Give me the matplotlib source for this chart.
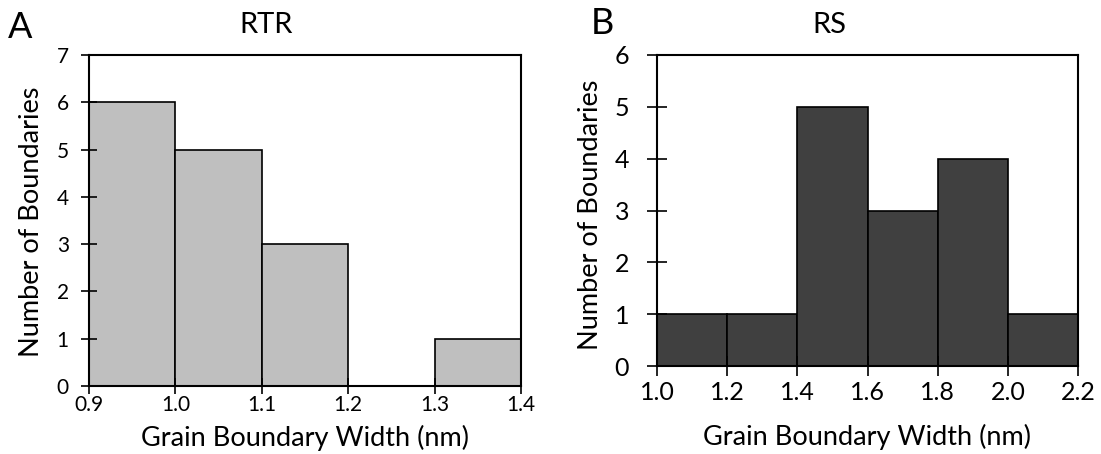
import matplotlib
matplotlib.use("Agg")
import matplotlib.pyplot as plt

plt.rcParams['font.family'] = ['Lato', 'DejaVu Sans']

# panel A: RTR
rtr_edges = [0.9, 1.0, 1.1, 1.2, 1.3, 1.4]
rtr_counts = [6, 5, 3, 0, 1]
rtr_xticks = ['0.9', '1.0', '1.1', '1.2', '1.3', '1.4']

# panel B: RS
rs_edges = [1.0, 1.2, 1.4, 1.6, 1.8, 2.0, 2.2]
rs_counts = [1, 1, 5, 3, 4, 1]
rs_xticks = ['1.0', '1.2', '1.4', '1.6', '1.8', '2.0', '2.2']

W, H = 1101, 454
fig = plt.figure(figsize=(W / 100, H / 100), dpi=100)


def px_axes(x0, y0, x1, y1):
    # box given in pixels, top-left origin
    return fig.add_axes([x0 / W, 1 - y1 / H, (x1 - x0) / W, (y1 - y0) / H])


ax1 = px_axes(89, 55, 521, 386)
ax2 = px_axes(657, 55, 1078, 366)


def hist_panel(ax, edges, counts, labels, color, ymax, tsize, tlen, xpad, ypad):
    lefts = edges[:-1]
    widths = [b - a for a, b in zip(edges[:-1], edges[1:])]
    ax.bar(lefts, counts, width=widths, align='edge', color=color,
           edgecolor='black', linewidth=1.2)
    ax.set_xlim(edges[0], edges[-1])
    ax.set_ylim(0, ymax)
    ax.set_xticks(edges)
    ax.set_xticklabels(labels)
    ax.set_yticks(range(ymax + 1))
    ax.tick_params(direction='inout', length=tlen, width=1.2, labelsize=tsize)
    ax.tick_params(axis='x', pad=xpad)
    ax.tick_params(axis='y', pad=ypad)
    for s in ax.spines.values():
        s.set_linewidth(1.5)


hist_panel(ax1, rtr_edges, rtr_counts, rtr_xticks, '#bfbfbf', 7, 15, 11, 1, 9)
hist_panel(ax2, rs_edges, rs_counts, rs_xticks, '#404040', 6, 18, 14, 4, 13)

# titles, axis labels and panel letters placed like the original layout
fig.text(266 / W, 1 - 33 / H, 'RTR', fontsize=21, ha='center', va='baseline')
fig.text(829 / W, 1 - 33 / H, 'RS', fontsize=21, ha='center', va='baseline')
fig.text(8 / W, 1 - 38 / H, 'A', fontsize=26, ha='left', va='baseline')
fig.text(591 / W, 1 - 34 / H, 'B', fontsize=26, ha='left', va='baseline')

fig.text(305 / W, 1 - 446 / H, 'Grain Boundary Width (nm)', fontsize=19.5,
         ha='center', va='baseline')
fig.text(867 / W, 1 - 445 / H, 'Grain Boundary Width (nm)', fontsize=19.5,
         ha='center', va='baseline')
fig.text(32 / W, 1 - 222 / H, 'Number of Boundaries', fontsize=19.5,
         rotation=90, ha='center', va='center')
fig.text(591 / W, 1 - 215 / H, 'Number of Boundaries', fontsize=19.5,
         rotation=90, ha='center', va='center')

fig.savefig('out.png', dpi=100)
